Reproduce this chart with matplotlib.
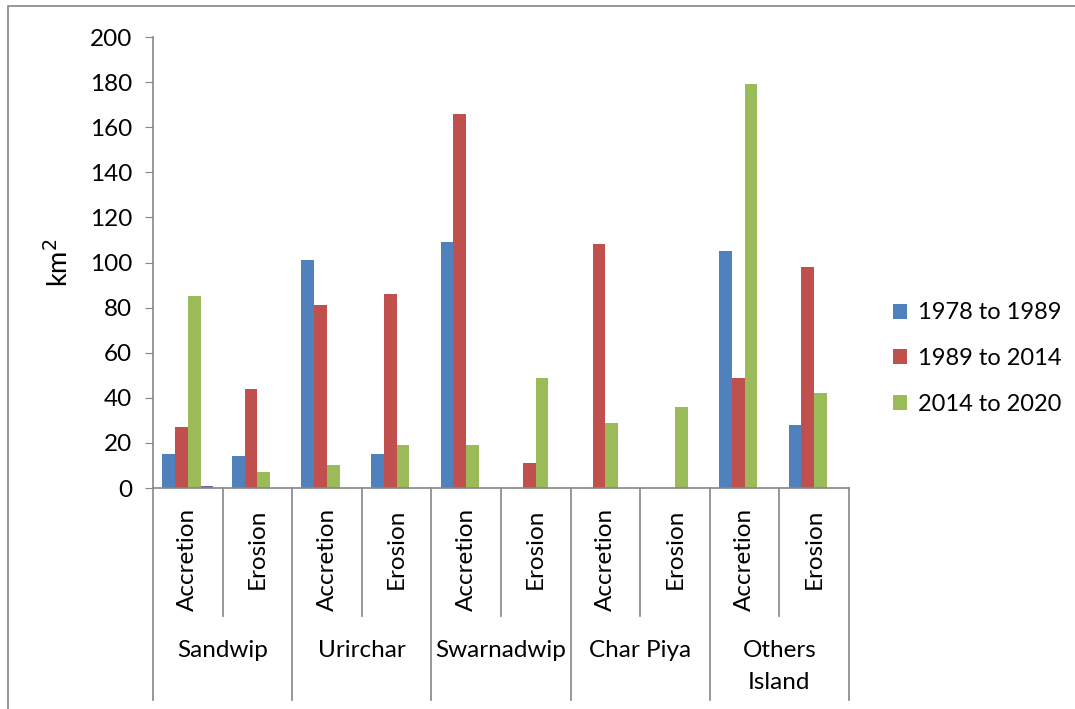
import numpy as np
import matplotlib.pyplot as plt
from matplotlib.patches import Rectangle
from matplotlib.transforms import blended_transform_factory

plt.rcParams['font.family'] = ['Lato', 'DejaVu Sans']

islands = ['Sandwip', 'Urirchar', 'Swarnadwip', 'Char Piya', 'Others\nIsland']
kinds = ['Accretion', 'Erosion']
series_names = ['1978 to 1989', '1989 to 2014', '2014 to 2020']
s1978 = [15, 14, 101, 15, 109, 0, 0, 0, 105, 28]
s1989 = [27, 44, 81, 86, 166, 11, 108, 0, 49, 98]
s2014 = [85, 7, 10, 19, 19, 49, 29, 36, 179, 42]
s_extra = [1, 0, 0, 0, 0, 0, 0, 0, 0, 0]
yticks = list(range(0, 201, 20))

colors = ['#4F81BD', '#C0504D', '#9BBB59', '#8064A2']
grey = '#868686'

fig = plt.figure(figsize=(10.75, 7.09), dpi=100)
ax = fig.add_axes([0.1423, 0.3117, 0.6474, 0.6361])

n = len(s1978)
x = np.arange(n)
w = 0.183
all_series = [s1978, s1989, s2014, s_extra]
for i, vals in enumerate(all_series):
    lab = series_names[i] if i < 3 else None
    ax.bar(x + (i - 1.5) * w, vals, w, color=colors[i], label=lab)

ax.set_xlim(-0.5, n - 0.5)
ax.set_ylim(0, 200)
ax.set_yticks(yticks)
ax.tick_params(axis='y', labelsize=17.5, length=6, color=grey, pad=9)
ax.set_xticks([])
for sp in ['top', 'right']:
    ax.spines[sp].set_visible(False)
for sp in ['left', 'bottom']:
    ax.spines[sp].set_color(grey)
    ax.spines[sp].set_linewidth(1.2)
ax.set_ylabel('km$^{2}$', fontsize=19.5, labelpad=12)

# multi-level category axis
tr = blended_transform_factory(ax.transData, ax.transAxes)
for b in np.arange(-0.5, n, 1.0):
    group_edge = int(round(b + 0.5)) % 2 == 0
    y_end = -0.47 if group_edge else -0.284
    ax.plot([b, b], [0, y_end], color=grey, lw=1.2, transform=tr, clip_on=False)

for i in range(n):
    ax.text(i, -0.045, kinds[i % 2], rotation=90, ha='center', va='top',
            fontsize=17.5, transform=tr)
for g, name in enumerate(islands):
    ax.text(2 * g + 0.5, -0.338, name, ha='center', va='top', fontsize=17.5,
            linespacing=1.6, transform=tr)

ax.legend(loc='center left', bbox_to_anchor=(0.811, 0.494), bbox_transform=fig.transFigure,
          frameon=False, fontsize=17, handlelength=0.6, handleheight=0.6,
          labelspacing=1.05, handletextpad=0.45)

fig.patches.append(Rectangle((8 / 1075, -0.01), 1.0, 1 - 6 / 709 + 0.01,
                             transform=fig.transFigure, fill=False,
                             edgecolor=grey, lw=1.2))

fig.savefig('out.png', dpi=100)
